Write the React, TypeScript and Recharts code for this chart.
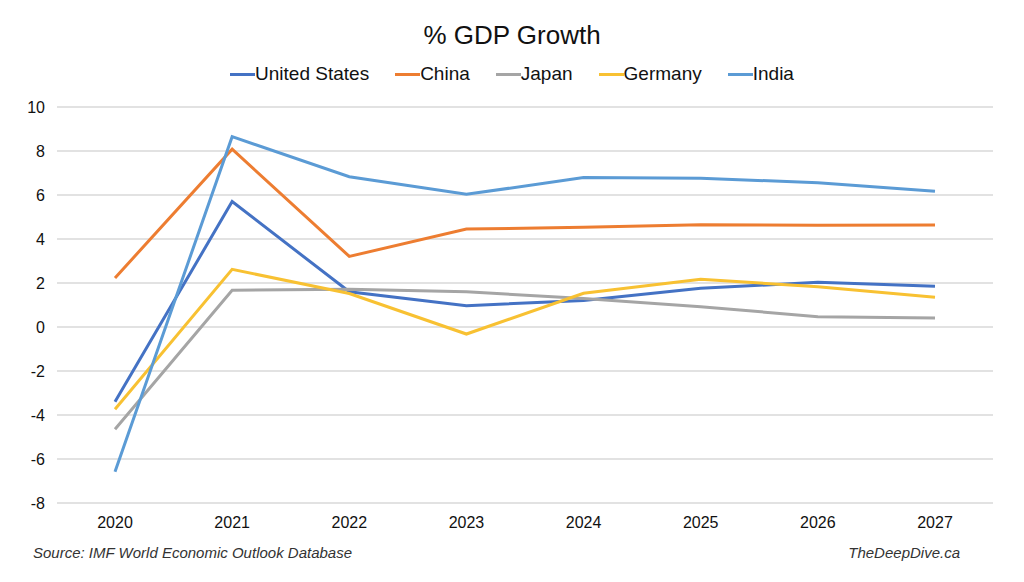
import React from 'react'
import { LineChart, Line, XAxis, YAxis, CartesianGrid } from 'recharts'

const years = ['2020', '2021', '2022', '2023', '2024', '2025', '2026', '2027']
const unitedStates = [-3.4, 5.7, 1.6, 0.97, 1.2, 1.76, 2.03, 1.85]
const china = [2.23, 8.08, 3.21, 4.45, 4.53, 4.65, 4.62, 4.64]
const japan = [-4.65, 1.67, 1.72, 1.6, 1.3, 0.92, 0.47, 0.41]
const germany = [-3.74, 2.62, 1.52, -0.32, 1.53, 2.17, 1.83, 1.35]
const india = [-6.58, 8.65, 6.83, 6.03, 6.79, 6.76, 6.56, 6.17]
const yTicks = [-8, -6, -4, -2, 0, 2, 4, 6, 8, 10]

const series = [
  { key: 'United States', values: unitedStates, color: '#4472c4' },
  { key: 'China', values: china, color: '#ed7d31' },
  { key: 'Japan', values: japan, color: '#a5a5a5' },
  { key: 'Germany', values: germany, color: '#f8c132' },
  { key: 'India', values: india, color: '#5b9bd5' },
]

const data = years.map((year, i) => {
  const row: Record<string, string | number> = { year }
  series.forEach(s => { row[s.key] = s.values[i] })
  return row
})

const FONT = '"Liberation Sans", Arial, Helvetica, sans-serif'

export default function App() {
  return (
    <div style={{ position: 'absolute', left: 0, top: 0, width: 1024, height: 582, background: '#fff', fontFamily: FONT }}>
      <div style={{ position: 'absolute', top: 20, width: 1024, textAlign: 'center', fontSize: 26, color: '#111' }}>
        % GDP Growth
      </div>
      <div style={{ position: 'absolute', top: 63, width: 1024, display: 'flex', justifyContent: 'center', gap: 26, fontSize: 19, color: '#111' }}>
        {series.map(s => (
          <div key={s.key} style={{ display: 'flex', alignItems: 'center' }}>
            <div style={{ width: 25, height: 3, background: s.color }} />
            <span>{s.key}</span>
          </div>
        ))}
      </div>
      <div style={{ position: 'absolute', left: 0, top: 0 }}>
        <LineChart width={1024} height={582} data={data} margin={{ top: 107, right: 31, bottom: 49, left: 17 }}>
          <CartesianGrid vertical={false} stroke="#d9d9d9" strokeWidth={1.3} />
          <XAxis
            dataKey="year"
            axisLine={false}
            tickLine={false}
            tickSize={0}
            tickMargin={14}
            height={30}
            padding={{ left: 58, right: 58 }}
            tick={{ fontSize: 16, fill: '#111', fontFamily: FONT }}
          />
          <YAxis
            domain={[-8, 10]}
            ticks={yTicks}
            interval={0}
            axisLine={false}
            tickLine={false}
            tickSize={0}
            tickMargin={12}
            width={40}
            tick={{ fontSize: 16, fill: '#111', fontFamily: FONT }}
          />
          {series.map(s => (
            <Line
              key={s.key}
              type="linear"
              dataKey={s.key}
              stroke={s.color}
              strokeWidth={3}
              dot={false}
              activeDot={false}
              isAnimationActive={false}
            />
          ))}
        </LineChart>
      </div>
      <div style={{ position: 'absolute', left: 33, top: 544, fontSize: 15, fontStyle: 'italic', color: '#333' }}>
        Source: IMF World Economic Outlook Database
      </div>
      <div style={{ position: 'absolute', right: 64, top: 544, fontSize: 15, fontStyle: 'italic', color: '#333' }}>
        TheDeepDive.ca
      </div>
    </div>
  )
}
